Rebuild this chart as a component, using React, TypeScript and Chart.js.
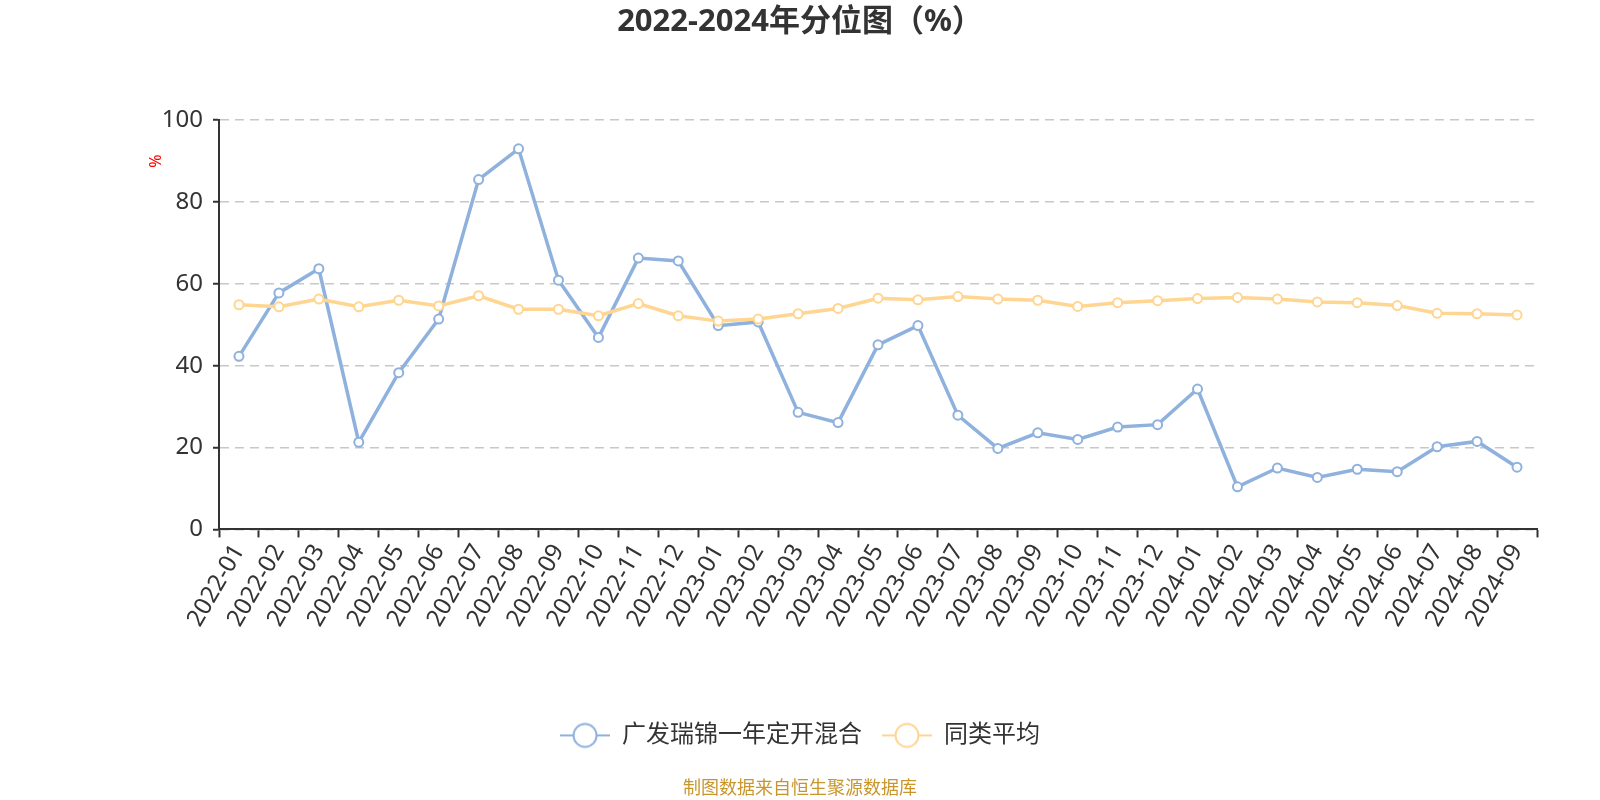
import React, { useEffect, useRef } from "react";
import { Chart, registerables } from "chart.js";

Chart.register(...registerables);

const categories: string[] = [
  "2022-01", "2022-02", "2022-03", "2022-04", "2022-05", "2022-06",
  "2022-07", "2022-08", "2022-09", "2022-10", "2022-11", "2022-12",
  "2023-01", "2023-02", "2023-03", "2023-04", "2023-05", "2023-06",
  "2023-07", "2023-08", "2023-09", "2023-10", "2023-11", "2023-12",
  "2024-01", "2024-02", "2024-03", "2024-04", "2024-05", "2024-06",
  "2024-07", "2024-08", "2024-09",
];

const fundName = "广发瑞锦一年定开混合";
const fundValues: number[] = [
  42.3, 57.8, 63.7, 21.3, 38.3, 51.4, 85.5, 93.0, 60.9, 46.9, 66.3, 65.6,
  49.8, 50.7, 28.6, 26.1, 45.1, 49.8, 27.9, 19.8, 23.6, 22.0, 25.0, 25.6,
  34.3, 10.4, 15.0, 12.7, 14.7, 14.1, 20.2, 21.5, 15.2,
];

const avgName = "同类平均";
const avgValues: number[] = [
  54.9, 54.4, 56.3, 54.4, 56.0, 54.6, 57.1, 53.8, 53.8, 52.2, 55.2, 52.2,
  50.9, 51.4, 52.7, 54.0, 56.5, 56.1, 56.9, 56.3, 56.0, 54.5, 55.4, 55.9,
  56.4, 56.7, 56.3, 55.6, 55.4, 54.7, 52.8, 52.7, 52.4,
];

const yTicks: number[] = [0, 20, 40, 60, 80, 100];

const titleText = "2022-2024年分位图（%）";
const footerText = "制图数据来自恒生聚源数据库";
const yAxisName = "%";

const BLUE = "#8fb1dd";
const ORANGE = "#ffd592";
const FONT = '"Noto Sans", "Noto Sans CJK SC", sans-serif';

function makeLegendIcon(color: string): HTMLCanvasElement {
  const c = document.createElement("canvas");
  c.width = 50;
  c.height = 28;
  const g = c.getContext("2d")!;
  g.strokeStyle = color;
  g.lineWidth = 2;
  g.beginPath();
  g.moveTo(0, 14);
  g.lineTo(50, 14);
  g.stroke();
  g.beginPath();
  g.arc(25, 14, 11.5, 0, Math.PI * 2);
  g.fillStyle = "#ffffff";
  g.fill();
  g.stroke();
  return c;
}

export default function App() {
  const canvasRef = useRef<HTMLCanvasElement | null>(null);

  useEffect(() => {
    if (!canvasRef.current) return;
    const icons = [makeLegendIcon(BLUE), makeLegendIcon(ORANGE)];

    const yNamePlugin = {
      id: "yNamePlugin",
      afterDraw(chart: any) {
        const ctx = chart.ctx;
        ctx.save();
        ctx.translate(156, 161);
        ctx.rotate(-Math.PI / 2);
        ctx.fillStyle = "#ff0000";
        ctx.font = `16px ${FONT}`;
        ctx.textAlign = "center";
        ctx.textBaseline = "middle";
        ctx.fillText(yAxisName, 0, 0);
        ctx.restore();
      },
    };

    const chart = new Chart(canvasRef.current, {
      type: "line",
      data: {
        labels: categories,
        datasets: [
          {
            label: fundName,
            data: fundValues,
            borderColor: BLUE,
            backgroundColor: "#ffffff",
            borderWidth: 3.5,
            pointRadius: 4.5,
            pointBorderWidth: 2,
            pointBackgroundColor: "#ffffff",
            pointBorderColor: BLUE,
            tension: 0,
            order: 1,
          },
          {
            label: avgName,
            data: avgValues,
            borderColor: ORANGE,
            backgroundColor: "#ffffff",
            borderWidth: 3.5,
            pointRadius: 4.5,
            pointBorderWidth: 2,
            pointBackgroundColor: "#ffffff",
            pointBorderColor: ORANGE,
            tension: 0,
            order: 0,
          },
        ],
      },
      options: {
        responsive: true,
        maintainAspectRatio: false,
        animation: false,
        layout: { padding: { left: 0, right: 0, top: 0, bottom: 0 } },
        scales: {
          x: {
            type: "category",
            offset: true,
            grid: {
              offset: true,
              drawOnChartArea: false,
              drawTicks: true,
              tickLength: 8,
              tickWidth: 2,
              tickColor: "#333333",
            },
            border: { display: true, color: "#333333", width: 2 },
            ticks: {
              autoSkip: false,
              minRotation: 60,
              maxRotation: 60,
              padding: 2,
              color: "#333333",
              font: { size: 24, family: FONT },
            },
            afterFit(scale: any) {
              scale.height = 174;
            },
          },
          y: {
            min: 0,
            max: 100,
            afterBuildTicks(scale: any) {
              scale.ticks = yTicks.map((v) => ({ value: v }));
            },
            grid: {
              color: "#c8c8c8",
              lineWidth: 1.5,
              drawTicks: true,
              tickLength: 6,
              tickColor: "#333333",
              tickWidth: 2,
            },
            border: { display: true, color: "#333333", width: 2, dash: [9, 6] },
            ticks: {
              padding: 10,
              color: "#333333",
              font: { size: 24, family: FONT },
            },
            afterFit(scale: any) {
              scale.width = 219;
            },
          },
          yR: {
            type: "linear",
            axis: "y",
            position: "right",
            display: true,
            grid: { display: false, drawTicks: false },
            border: { display: false },
            ticks: { display: false },
            afterFit(scale: any) {
              scale.width = 63;
            },
          },
        },
        plugins: {
          tooltip: { enabled: false },
          title: {
            display: true,
            text: titleText,
            color: "#333333",
            font: { size: 31, weight: "bold", family: FONT },
            padding: { top: 4, bottom: 79 },
          },
          subtitle: {
            display: true,
            position: "bottom",
            text: footerText,
            color: "#c8962d",
            font: { size: 18, family: FONT },
            padding: { top: 21, bottom: 0 },
          },
          legend: {
            display: true,
            position: "bottom",
            labels: {
              usePointStyle: true,
              pointStyleWidth: 50,
              padding: 20,
              color: "#333333",
              font: { size: 24, family: FONT },
              generateLabels(ch: any) {
                const items = Chart.defaults.plugins.legend.labels.generateLabels(ch);
                return items
                  .sort((a: any, b: any) => a.datasetIndex - b.datasetIndex)
                  .map((it: any) => ({ ...it, pointStyle: icons[it.datasetIndex] }));
              },
            },
          },
        },
      },
      plugins: [yNamePlugin],
    } as any);

    return () => chart.destroy();
  }, []);

  return (
    <div
      style={{
        position: "absolute",
        left: 0,
        top: 0,
        width: 1600,
        height: 800,
        overflow: "hidden",
        background: "#ffffff",
      }}
    >
      <canvas ref={canvasRef} />
    </div>
  );
}
